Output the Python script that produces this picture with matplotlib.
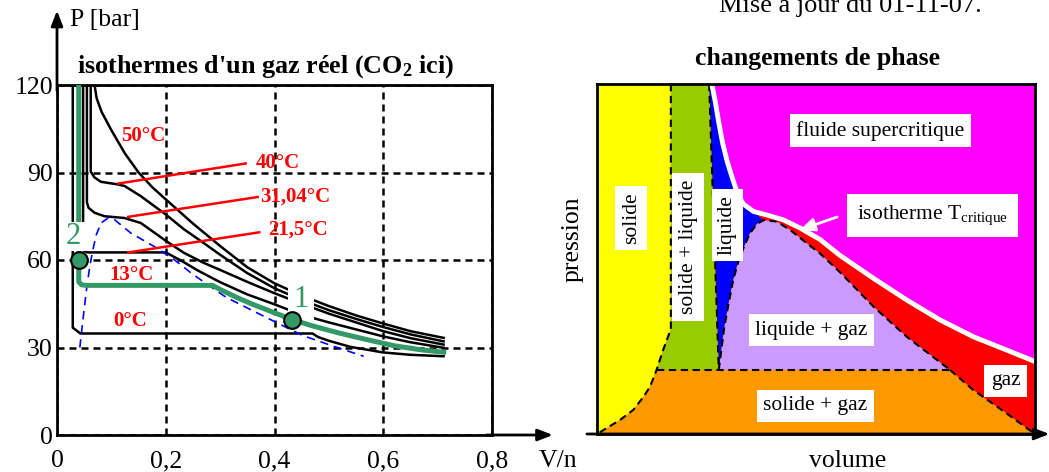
import matplotlib
matplotlib.use('Agg')
import matplotlib.pyplot as plt
from matplotlib.patches import Rectangle

plt.rcParams['font.family'] = ['Liberation Serif', 'DejaVu Serif']
plt.rcParams['mathtext.fontset'] = 'custom'
plt.rcParams['mathtext.rm'] = 'Liberation Serif'
plt.rcParams['mathtext.bf'] = 'Liberation Serif:bold'
plt.rcParams['mathtext.it'] = 'Liberation Serif:italic'

# ---------------- left chart data : isotherms of CO2 (V/n, P [bar]) ----------------
v_ticks = [0, 0.2, 0.4, 0.6, 0.8]
v_labels = ['0', '0,2', '0,4', '0,6', '0,8']
p_ticks = [0, 30, 60, 90, 120]

t0_V = [0.029, 0.029, 0.043, 0.47, 0.48, 0.50, 0.54, 0.60, 0.65, 0.711]
t0_P = [120, 36.8, 34.8, 34.8, 33.6, 32.3, 30.2, 28.3, 27.5, 27.0]

t13_V = [0.040, 0.040, 0.045, 0.054, 0.286, 0.30, 0.33, 0.36, 0.40, 0.432, 0.47, 0.52, 0.57, 0.62, 0.67, 0.711]
t13_P = [120, 52.5, 51.5, 51.3, 51.3, 49.9, 47.2, 44.8, 41.9, 39.6, 37.4, 34.9, 32.7, 30.6, 29.2, 28.4]

t21_V = [0.048, 0.048, 0.056, 0.200, 0.23, 0.26, 0.30, 0.35, 0.40, 0.45, 0.50, 0.55, 0.60, 0.65, 0.711]
t21_P = [120, 63.3, 62.6, 62.6, 59.6, 56.3, 52.4, 48.2, 44.8, 41.2, 38.6, 36.2, 33.8, 31.8, 29.9]

t31_V = [0.055, 0.055, 0.058, 0.069, 0.0875, 0.124, 0.154, 0.20, 0.233, 0.27, 0.30, 0.35, 0.40, 0.45, 0.50, 0.55, 0.60, 0.65, 0.711]
t31_P = [120, 79.8, 77.9, 76.2, 75.0, 74.4, 72.7, 66.6, 62.5, 59.0, 56.6, 52.5, 48.6, 45.0, 41.6, 38.6, 35.6, 33.2, 31.0]

t40_V = [0.062, 0.062, 0.069, 0.081, 0.109, 0.124, 0.154, 0.20, 0.233, 0.27, 0.30, 0.35, 0.40, 0.45, 0.50, 0.55, 0.60, 0.65, 0.711]
t40_P = [120, 90.3, 88.3, 86.8, 86.0, 85.4, 81.9, 75.6, 70.6, 65.8, 61.8, 55.5, 50.3, 46.3, 42.8, 39.8, 37.0, 34.5, 32.1]

t50_V = [0.069, 0.073, 0.082, 0.10, 0.125, 0.15, 0.175, 0.20, 0.25, 0.30, 0.35, 0.40, 0.45, 0.50, 0.55, 0.60, 0.65, 0.711]
t50_P = [120, 115.4, 110.8, 104.5, 96.5, 90.0, 85.0, 80.8, 72.5, 64.8, 57.5, 52.0, 47.8, 44.2, 41.0, 38.2, 35.6, 33.3]

dome_V = [0.042, 0.048, 0.054, 0.060, 0.066, 0.072, 0.081, 0.094, 0.106, 0.136, 0.179, 0.215, 0.249, 0.311, 0.372, 0.415, 0.452, 0.512, 0.564]
dome_P = [30.0, 40.0, 49.5, 57.5, 63.5, 68.5, 72.7, 74.4, 73.8, 69.2, 64.6, 60.2, 55.2, 47.2, 41.5, 37.5, 34.1, 30.2, 27.0]

pt_V = [0.432, 0.040]
pt_P = [39.4, 60.0]
pt_labels = ['1', '2']

temp_labels = ['50°C', '40°C', '31,04°C', '21,5°C', '13°C', '0°C']
# leader lines (start on the isotherm, end at the label)
lead_V = [[0.1125, 0.347], [0.131, 0.369], [0.131, 0.372]]
lead_P = [[86.2, 93.1], [74.8, 81.6], [62.6, 69.5]]

# ---------------- right chart data : phase regions (normalised volume, pressure) ----------------
crit_u = [0.262, 0.270, 0.278, 0.287, 0.297, 0.308, 0.320, 0.334, 0.357, 0.387, 0.425, 0.463, 0.509, 0.555, 0.631, 0.707, 0.783, 0.859, 0.935, 1.0]
crit_v = [1.0, 0.95, 0.89, 0.83, 0.78, 0.735, 0.69, 0.657, 0.636, 0.626, 0.612, 0.589, 0.556, 0.51, 0.445, 0.383, 0.326, 0.278, 0.24, 0.207]

dome_u = [0.278, 0.290, 0.300, 0.311, 0.322, 0.334, 0.349, 0.365, 0.380, 0.410, 0.441, 0.479, 0.509, 0.555, 0.631, 0.707, 0.806]
dome_v = [0.183, 0.30, 0.37, 0.44, 0.49, 0.53, 0.573, 0.600, 0.611, 0.607, 0.583, 0.545, 0.516, 0.462, 0.364, 0.278, 0.183]

gas_u = [0.806, 0.859, 0.935, 1.0]
gas_v = [0.183, 0.126, 0.059, 0.0]

solid_u = [0.1686, 0.1686, 0.151, 0.136, 0.121, 0.106, 0.083, 0.0525, 0.0]
solid_v = [1.0, 0.30, 0.24, 0.183, 0.135, 0.106, 0.069, 0.04, 0.0]

liq_u = [0.256, 0.278]
liq_v = [1.0, 0.183]

triple_v = 0.183

region_colors = {'solide': '#FFFF00', 'solide + liquide': '#99CC00', 'liquide': '#0000FF',
                 'fluide': '#FF00FF', 'gaz': '#FF0000', 'liquide + gaz': '#CC99FF',
                 'solide + gaz': '#FF9900'}

GREEN = '#339966'

fig = plt.figure(figsize=(10.49, 4.72), dpi=100)

# =============== LEFT CHART ===============
ax = fig.add_axes([57/1049, 37/472, 435/1049, 350/472])
ax.set_xlim(0, 0.8)
ax.set_ylim(0, 120)
ax.set_xticks(v_ticks)
ax.set_xticklabels(v_labels)
ax.set_yticks(p_ticks)
ax.tick_params(axis='x', length=0, labelsize=18.5, pad=11)
ax.tick_params(axis='y', length=0, labelsize=18.5, pad=3)
for s in ax.spines.values():
    s.set_linewidth(2)
    s.set_color('black')
ax.set_axisbelow(True)
ax.grid(True, color='black', linestyle=(0, (2.8, 2.0)), linewidth=1.8)

for V, P in [(t0_V, t0_P), (t21_V, t21_P), (t31_V, t31_P), (t40_V, t40_P), (t50_V, t50_P)]:
    ax.plot(V, P, color='black', lw=1.8, zorder=2, solid_joinstyle='round')
ax.plot(dome_V, dome_P, color='blue', lw=1.2, linestyle=(0, (5, 3.5)), zorder=2.5)

# white label boxes that interrupt the curves
ax.add_patch(Rectangle((0.425, 37.8), 0.048, 16.5, fc='white', ec='none', zorder=3))
ax.plot(t13_V, t13_P, color=GREEN, lw=3.6, zorder=4, solid_joinstyle='round')
ax.add_patch(Rectangle((0.008, 63.0), 0.047, 10.2, fc='white', ec='none', zorder=4.2))

ax.plot(pt_V, pt_P, 'o', ms=12, mfc=GREEN, mec='black', mew=1.5, zorder=5, linestyle='none')
ax.text(0.449, 46.5, pt_labels[0], color=GREEN, fontsize=22, ha='center', va='center', zorder=6)
ax.text(0.030, 68.0, pt_labels[1], color=GREEN, fontsize=22, ha='center', va='center', zorder=6)

for lv, lp in zip(lead_V, lead_P):
    ax.plot(lv, lp, color='red', lw=1.8, zorder=4.5)

tkw = dict(color='red', fontsize=15, fontweight='bold', va='center', zorder=6)
ax.text(0.158, 102.5, temp_labels[0], ha='center', **tkw)
ax.text(0.366, 93.1, temp_labels[1], ha='left', **tkw)
ax.text(0.373, 81.6, temp_labels[2], ha='left', **tkw)
ax.text(0.388, 70.5, temp_labels[3], ha='left', **tkw)
ax.text(0.137, 54.8, temp_labels[4], ha='center', **tkw)
ax.text(0.135, 39.0, temp_labels[5], ha='center', **tkw)

akw = dict(arrowstyle='-|>,head_length=0.9,head_width=0.35', color='black', lw=2,
           shrinkA=0, shrinkB=0)
ax.annotate('', xy=(0.912, 0), xytext=(0.79, 0), arrowprops=akw, annotation_clip=False)
ax.annotate('', xy=(0, 145.5), xytext=(0, 118), arrowprops=akw, annotation_clip=False)

ax.text(0.024, 142.3, 'P [bar]', fontsize=18.5, ha='left', va='center')
ax.text(0.886, -9.0, 'V/n', fontsize=18.5, ha='left', va='center')
ax.text(0.384, 126.4, "isothermes d'un gaz réel (CO$_{\\mathbf{2}}$ ici)", fontsize=18.8,
        fontweight='bold', ha='center', va='center')

# =============== RIGHT CHART ===============
ax2 = fig.add_axes([597/1049, 38/472, 438/1049, 350/472])
ax2.set_xlim(0, 1)
ax2.set_ylim(0, 1)
ax2.set_xticks([])
ax2.set_yticks([])
for s in ax2.spines.values():
    s.set_linewidth(2)
    s.set_color('black')
    s.set_zorder(10)

# magenta above critical isotherm
ax2.fill(crit_u + [1.0], crit_v + [1.0], color=region_colors['fluide'], lw=0, zorder=1)
# red below critical isotherm (later covered)
ax2.fill(crit_u + [1.0, 0.0, 0.0], crit_v + [0.0, 0.0, 1.0], color=region_colors['gaz'], lw=0, zorder=1)
# blue liquid
top_idx = dome_v.index(max(dome_v))
bu = [liq_u[0]] + [u for u in crit_u if u < dome_u[top_idx]] + dome_u[top_idx::-1]
bv = [liq_v[0]] + [v for u, v in zip(crit_u, crit_v) if u < dome_u[top_idx]] + dome_v[top_idx::-1]
ax2.fill(bu, bv, color=region_colors['liquide'], lw=0, zorder=2)
# lavender liquid + gas
ax2.fill(dome_u, dome_v, color=region_colors['liquide + gaz'], lw=0, zorder=2)
# orange solid + gas
tp = solid_v.index(triple_v)
ou = solid_u[::-1][:len(solid_u) - tp] + gas_u
ov = solid_v[::-1][:len(solid_v) - tp] + gas_v
ax2.fill(ou, ov, color=region_colors['solide + gaz'], lw=0, zorder=2)
# green solid + liquid
gu = [solid_u[0]] + liq_u + solid_u[tp:0:-1]
gv = [solid_v[0]] + liq_v + solid_v[tp:0:-1]
ax2.fill(gu, gv, color=region_colors['solide + liquide'], lw=0, zorder=2)
# yellow solid
ax2.fill([0.0] + solid_u, [1.0] + solid_v, color=region_colors['solide'], lw=0, zorder=2)

dkw = dict(color='black', lw=1.5, linestyle=(0, (3.5, 2.2)), zorder=4)
ax2.plot(solid_u, solid_v, **dkw)
ax2.plot(liq_u, liq_v, **dkw)
ax2.plot([solid_u[tp], dome_u[-1]], [triple_v, triple_v], **dkw)
ax2.plot(dome_u, dome_v, **dkw)
ax2.plot(gas_u, gas_v, **dkw)
ax2.plot(crit_u, crit_v, color='white', lw=3.5, zorder=5, solid_capstyle='butt')

ax2.annotate('', xy=(0.463, 0.583), xytext=(0.548, 0.62),
             arrowprops=dict(arrowstyle='-|>,head_length=0.9,head_width=0.4', color='white', lw=2,
                             shrinkA=0, shrinkB=0), zorder=6)

bb = dict(boxstyle='square,pad=0.3', fc='white', ec='none')
lkw = dict(fontsize=15.5, ha='center', va='center', bbox=bb, zorder=7)
ax2.text(0.078, 0.617, 'solide', rotation=90, **lkw)
ax2.text(0.208, 0.534, 'solide + liquide', rotation=90, **lkw)
ax2.text(0.298, 0.597, 'liquide', rotation=90, **lkw)
ax2.text(0.647, 0.866, 'fluide supercritique', **lkw)
ax2.text(0.766, 0.624, 'isotherme T$_{\\mathrm{critique}}$',
         fontsize=15.5, ha='center', va='center', zorder=7,
         bbox=dict(boxstyle='square,pad=0.45', fc='white', ec='none'))
ax2.text(0.490, 0.296, 'liquide + gaz', **lkw)
ax2.text(0.933, 0.152, 'gaz', **lkw)
ax2.text(0.498, 0.081, 'solide + gaz', **lkw)

ax2.annotate('', xy=(1.033, 0), xytext=(-0.023, 0),
             arrowprops=dict(arrowstyle='-|>,head_length=0.9,head_width=0.35', color='black', lw=2,
                             shrinkA=0, shrinkB=0), annotation_clip=False, zorder=11)

ax2.text(-0.055, 0.557, 'pression', fontsize=18.5, rotation=90, ha='center', va='center')
ax2.text(0.573, -0.077, 'volume', fontsize=18.5, ha='center', va='center')
ax2.text(0.504, 1.074, 'changements de phase', fontsize=18.5, fontweight='bold', ha='center', va='center')

fig.text(850/1049, (472 - 12)/472, 'Mise à jour du 01-11-07.', fontsize=19, ha='center', va='baseline')

fig.savefig('out.png', dpi=100)
